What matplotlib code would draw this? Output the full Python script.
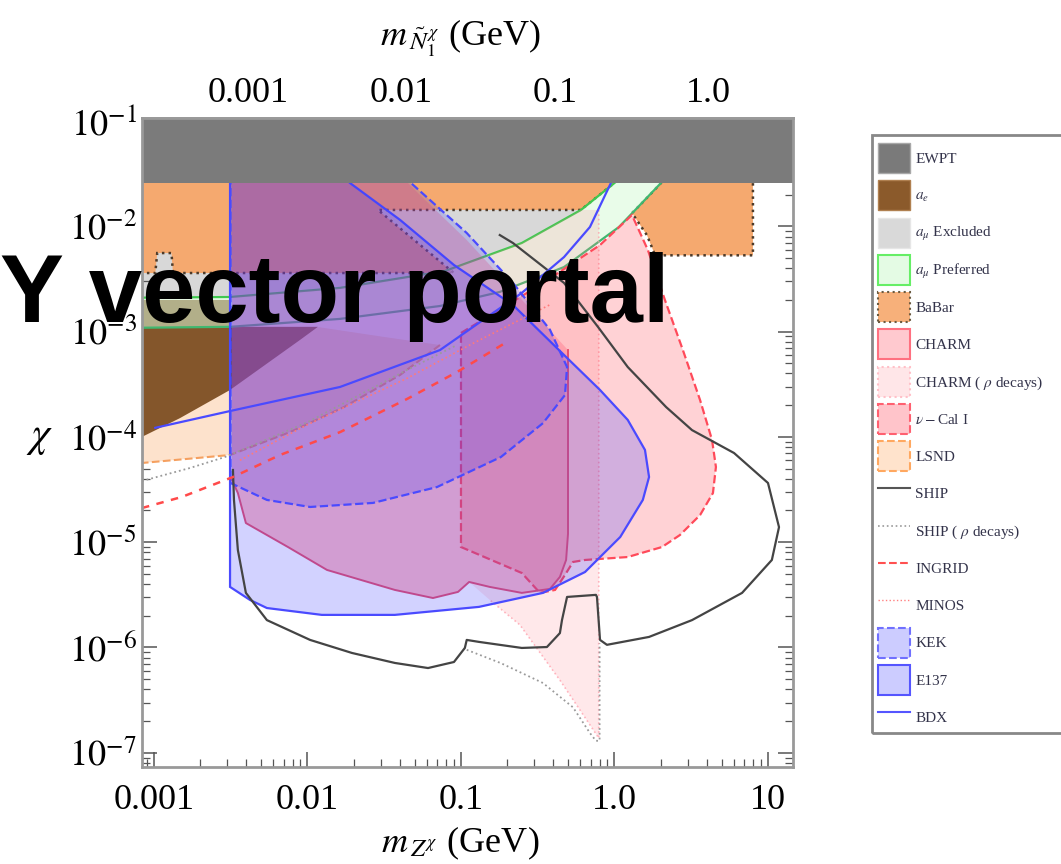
import matplotlib.pyplot as plt
from matplotlib.patches import Patch, Rectangle
from matplotlib.lines import Line2D
from matplotlib.ticker import LogLocator, NullFormatter

plt.rcParams['font.family'] = 'serif'
plt.rcParams['font.serif'] = ['Liberation Serif', 'DejaVu Serif']
plt.rcParams['mathtext.fontset'] = 'stix'

# m_Z' / m_N1 used for the upper axis
mass_ratio = 4.1

x_ticks = [0.001, 0.01, 0.1, 1.0, 10]
x_ticklabels = ['0.001', '0.01', '0.1', '1.0', '10']
top_ticks = [0.001, 0.01, 0.1, 1.0]
top_ticklabels = ['0.001', '0.01', '0.1', '1.0']
y_ticks = [1e-1, 1e-2, 1e-3, 1e-4, 1e-5, 1e-6, 1e-7]
y_ticklabels = [r'$10^{-1}$', r'$10^{-2}$', r'$10^{-3}$', r'$10^{-4}$',
                r'$10^{-5}$', r'$10^{-6}$', r'$10^{-7}$']

# --- excluded / sensitivity regions (mass in GeV, mixing chi) ---
ewpt_m = [1e-4, 1e2]
ewpt_chi = 2.6e-2

amu_excl_m = [5e-4, 1.6, 1.6, 1.0, 0.605, 0.249, 7.87e-2, 1.63e-2, 3.13e-3, 5e-4]
amu_excl_chi = [1.0, 1.0, 5e-2, 2.58e-2, 1.43e-2, 6.94e-3, 3.76e-3, 2.6e-3, 2.13e-3, 2.09e-3]

amu_pref_up_m = [5e-4, 3.13e-3, 1.63e-2, 7.87e-2, 0.249, 0.605, 1.0, 1.6]
amu_pref_up_chi = [2.09e-3, 2.13e-3, 2.6e-3, 3.76e-3, 6.94e-3, 1.43e-2, 2.58e-2, 5e-2]
amu_pref_lo_m = [5e-4, 3.13e-3, 1.63e-2, 7.3e-2, 0.179, 0.469, 1.07, 2.04, 3.6]
amu_pref_lo_chi = [1.08e-3, 1.11e-3, 1.32e-3, 1.75e-3, 2.38e-3, 4.1e-3, 9.85e-3, 2.64e-2, 5.3e-2]

# BaBar, low-mass part and high-mass lobe
babar_lo_m = [5e-4, 1.6, 1.6, 1.0, 0.605, 2.88e-2, 9.0e-2,
              1.33e-3, 1.30e-3, 1.05e-3, 1.02e-3, 5e-4]
babar_lo_chi = [1.0, 1.0, 5e-2, 2.58e-2, 1.43e-2, 1.43e-2, 3.6e-3,
                3.6e-3, 5.57e-3, 5.57e-3, 3.6e-3, 3.6e-3]
babar_hi_m = [2.04, 7.98, 7.98, 1.84, 1.63, 1.30, 1.47, 2.04]
babar_hi_chi = [1.0, 1.0, 5.3e-3, 5.3e-3, 8.2e-3, 1.34e-2, 1.6e-2, 2.64e-2]

ae_m = [5e-4, 3.13e-3, 3.13e-3, 1.17e-2, 8.93e-3, 3.13e-3, 1.48e-3, 8.35e-4, 5e-4]
ae_chi = [2.0e-3, 2.0e-3, 1.11e-3, 1.11e-3, 8.32e-4, 2.79e-4, 1.51e-4, 1.0e-4, 7e-5]

lsnd_m = [5e-4, 8.35e-4, 3.13e-3, 7.69e-3, 1.73e-2, 4.01e-2, 7.3e-2,
          3.0e-2, 1.2e-2, 3.13e-3, 5e-4]
lsnd_chi = [5.9e-5, 5.65e-5, 6.73e-5, 1.11e-4, 1.92e-4, 3.87e-4, 7.46e-4,
            9e-4, 1.1e-3, 1.1e-3, 1.1e-3]
lsnd_edge_n = 7   # points on the lower (visible) boundary

charm_m = [3.22e-3, 3.22e-3, 3.52e-3, 3.97e-3, 7.46e-3, 1.34e-2, 3.71e-2, 6.57e-2,
           9.56e-2, 0.113, 0.154, 0.249, 0.38, 0.441, 0.484, 0.498, 0.498,
           0.218, 0.109, 5.41e-2, 4.01e-2, 3.5e-2]
charm_chi = [5e-2, 3.9e-5, 2.93e-5, 1.52e-5, 9.0e-6, 5.45e-6, 3.52e-6, 2.95e-6,
             3.37e-6, 4.19e-6, 3.76e-6, 3.3e-6, 3.6e-6, 4.68e-6, 6.78e-6, 1.2e-5, 6.68e-4,
             2.48e-3, 7.41e-3, 1.98e-2, 3.07e-2, 5e-2]
charm_edge = slice(1, 17)

# CHARM (rho decays): the hidden part follows the CHARM edge and the a_mu band
charm_rho_m = [0.79, 0.79, 0.441, 0.242, 0.154, 0.113, 9.56e-2, 6.57e-2, 3.71e-2,
               1.34e-2, 7.46e-3, 3.97e-3, 3.52e-3, 3.22e-3, 3.22e-3, 1.63e-2,
               7.87e-2, 0.249, 0.605]
charm_rho_chi = [1.43e-2, 1.38e-7, 4.9e-7, 1.64e-6, 2.83e-6, 4.19e-6, 3.37e-6, 2.95e-6,
                 3.52e-6, 5.45e-6, 9.0e-6, 1.52e-5, 2.93e-5, 3.9e-5, 2.13e-3, 2.6e-3,
                 3.76e-3, 6.94e-3, 1.43e-2]
charm_rho_edge = slice(0, 5)

nucal_m = [0.1, 0.327, 0.805, 1.30, 1.65, 2.13, 2.79, 3.61, 4.32, 4.58, 4.38, 3.61,
           2.67, 2.04, 1.22, 0.643, 0.537, 0.476, 0.41, 0.327, 0.249, 0.1]
nucal_chi = [9.7e-4, 2.77e-3, 6.64e-3, 1.28e-2, 5.96e-3, 2.0e-3, 6.68e-4, 2.24e-4,
             9.36e-5, 5.18e-5, 2.93e-5, 1.81e-5, 1.17e-5, 9.0e-6, 7.23e-6, 6.78e-6,
             6.49e-6, 4.89e-6, 3.52e-6, 3.3e-6, 5.1e-6, 9.0e-6]

e137_m = [3.13e-3, 3.13e-3, 4.22e-3, 5.44e-3, 1.24e-2, 3.71e-2, 0.131, 0.342, 0.643,
          1.09, 1.53, 1.68, 1.58, 1.22, 0.805, 0.469, 0.218, 9.0e-2, 4.01e-2,
          1.89e-2, 1.2e-2]
e137_chi = [5e-2, 3.76e-6, 2.83e-6, 2.37e-6, 2.04e-6, 2.04e-6, 2.43e-6, 3.3e-6, 5.21e-6,
            1.12e-5, 2.52e-5, 4.16e-5, 7.52e-5, 1.45e-4, 2.79e-4, 6.0e-4, 1.79e-3,
            4.29e-3, 1.15e-2, 2.58e-2, 5e-2]

kek_m = [3.15e-3, 3.15e-3, 5.44e-3, 1.04e-2, 2.67e-2, 6.98e-2, 0.182, 0.342, 0.476,
         0.491, 0.38, 0.218, 0.109, 4.72e-2, 3.7e-2]
kek_chi = [5e-2, 3.65e-5, 2.52e-5, 2.16e-5, 2.36e-5, 3.34e-5, 6.44e-5, 1.35e-4, 2.5e-4,
           4.61e-4, 1.04e-3, 2.9e-3, 8.64e-3, 2.58e-2, 5e-2]

# --- sensitivity curves ---
ship_m = [0.179, 0.218, 0.469, 0.78, 1.22, 2.17, 3.20, 6.01, 10.0, 11.8, 10.6, 6.78,
          3.20, 1.68, 0.893, 0.805, 0.769, 0.757, 0.491, 0.455, 0.441, 0.363, 0.249,
          0.131, 0.109, 0.106, 0.09, 6.1e-2, 3.71e-2, 1.95e-2, 1.04e-2, 5.44e-3,
          3.97e-3, 3.52e-3, 3.32e-3, 3.27e-3]
ship_chi = [8.26e-3, 6.94e-3, 2.9e-3, 1.11e-3, 4.61e-4, 1.92e-4, 1.16e-4, 7.03e-5,
            3.65e-5, 1.39e-5, 6.78e-6, 3.3e-6, 1.82e-6, 1.26e-6, 1.06e-6, 1.18e-6,
            3.02e-6, 3.16e-6, 3.02e-6, 1.82e-6, 1.37e-6, 1.01e-6, 9.9e-7, 1.13e-6,
            1.18e-6, 9.9e-7, 7.28e-7, 6.38e-7, 7.13e-7, 8.87e-7, 1.18e-6, 1.82e-6,
            3.3e-6, 8.43e-6, 2.52e-5, 4.85e-5]

ship_rho_low_m = [8.35e-4, 1.72e-3, 2.9e-3, 9.93e-3, 4.45e-2, 9.42e-2]
ship_rho_low_chi = [3.81e-5, 5.07e-5, 6.44e-5, 1.37e-4, 4.32e-4, 7.46e-4]
ship_rho_m = [0.109, 0.182, 0.342, 0.537, 0.692, 0.757, 0.80, 0.80]
ship_rho_chi = [9.5e-7, 7.1e-7, 4.6e-7, 2.7e-7, 1.54e-7, 1.3e-7, 1.3e-7, 1.1e-6]

ingrid_m = [8.35e-4, 1.52e-3, 3.27e-3, 6.62e-3, 1.63e-2, 4.45e-2, 9.42e-2, 0.2]
ingrid_chi = [2.11e-5, 2.69e-5, 4.16e-5, 6.73e-5, 1.11e-4, 2.29e-4, 4.13e-4, 8.0e-4]

minos_m = [3.63e-3, 9.93e-3, 4.45e-2, 0.115, 0.38]
minos_chi = [6.0e-5, 1.3e-4, 3.6e-4, 7.5e-4, 1.8e-3]

bdx_m = [1.02e-3, 3.13e-3, 1.63e-2, 7.3e-2, 0.249, 0.469, 0.692, 0.948]
bdx_chi = [1.22e-4, 1.76e-4, 2.98e-4, 6.68e-4, 2.33e-3, 5.1e-3, 9.85e-3, 2.58e-2]

fig = plt.figure(figsize=(10.61, 8.64), dpi=100)
ax = fig.add_axes([142 / 1061, 1 - 767 / 864, 651 / 1061, 649 / 864])
ax.set_xscale('log')
ax.set_yscale('log')

babar_kw = dict(facecolor='#f5a96f', edgecolor='#4d3b2a', linestyle=':', lw=1.8, zorder=2)
ax.fill(amu_excl_m, amu_excl_chi, facecolor='#d8d8d8', edgecolor='none', zorder=1)
ax.fill(babar_lo_m, babar_lo_chi, **babar_kw)
ax.fill(babar_hi_m, babar_hi_chi, **babar_kw)

ax.fill(lsnd_m, lsnd_chi, facecolor='#fde2cc', edgecolor='none', zorder=3)
ax.plot(lsnd_m[:lsnd_edge_n], lsnd_chi[:lsnd_edge_n], color='#f5a060', lw=1.5,
        ls='--', zorder=3)
ax.fill(ae_m, ae_chi, facecolor='#84562b', edgecolor='none', zorder=4)
ax.fill(amu_pref_up_m + amu_pref_lo_m[::-1], amu_pref_up_chi + amu_pref_lo_chi[::-1],
        facecolor='#d8fad8', alpha=0.55, edgecolor='none', zorder=5)
ax.plot(amu_pref_up_m, amu_pref_up_chi, color='#40c850', lw=1.6, zorder=5)
ax.plot(amu_pref_lo_m, amu_pref_lo_chi, color='#40b870', lw=1.6, zorder=5)

ax.fill(charm_rho_m, charm_rho_chi, facecolor=(1, 0.55, 0.6, 0.2),
        edgecolor='none', zorder=6)
ax.plot(charm_rho_m[charm_rho_edge], charm_rho_chi[charm_rho_edge],
        color=(1, 0.6, 0.65, 0.7), ls=':', lw=1.2, zorder=6)
ax.fill(nucal_m, nucal_chi, facecolor=(1, 0.3, 0.35, 0.25),
        edgecolor='#ff4a5a', linestyle='--', lw=1.6, zorder=7)
ax.fill(charm_m, charm_chi, facecolor=(1, 0.3, 0.42, 0.28), edgecolor='none', zorder=8)
ax.plot(charm_m[charm_edge], charm_chi[charm_edge], color='#e8506e', lw=1.4, zorder=8)
ax.fill(e137_m, e137_chi, facecolor=(0.2, 0.2, 1, 0.22),
        edgecolor='#4a4aff', lw=1.6, zorder=9)
ax.fill(kek_m, kek_chi, facecolor=(0.2, 0.2, 1, 0.2),
        edgecolor='#4a4aff', linestyle='--', lw=1.6, zorder=10)

ax.plot(ship_m, ship_chi, color='#444444', lw=1.6, zorder=11)
ax.plot(ship_rho_low_m, ship_rho_low_chi, color='#9a9a9a', lw=1.3, ls=':', zorder=11)
ax.plot(ship_rho_m, ship_rho_chi, color='#9a9a9a', lw=1.3, ls=':', zorder=11)
ax.plot(ingrid_m, ingrid_chi, color='#ff4a4a', lw=1.8, ls=(0, (3, 3)), zorder=11)
ax.plot(minos_m, minos_chi, color='#ff7a7a', lw=1.2, ls=':', zorder=11)
ax.plot(bdx_m, bdx_chi, color='#4a4aff', lw=1.6, zorder=12)

ax.fill_between(ewpt_m, ewpt_chi, 1.0, facecolor='#7b7b7b', edgecolor='none', zorder=20)

ax.set_xlim(10 ** -3.078, 10 ** 1.163)
ax.set_ylim(10 ** -7.135, 10 ** -0.9715)

ax.set_xticks(x_ticks, labels=x_ticklabels)
ax.set_yticks(y_ticks, labels=y_ticklabels)
ax.xaxis.set_minor_locator(LogLocator(base=10, subs=range(2, 10), numticks=20))
ax.yaxis.set_minor_locator(LogLocator(base=10, subs=range(2, 10), numticks=20))
ax.xaxis.set_minor_formatter(NullFormatter())
ax.yaxis.set_minor_formatter(NullFormatter())
ax.tick_params(which='both', direction='in', color='#555555', labelsize=26)
ax.tick_params(axis='x', which='both', top=False, pad=12)
ax.tick_params(axis='y', which='both', right=True, pad=4)
ax.tick_params(which='major', length=11, width=1.1)
ax.tick_params(which='minor', length=6, width=0.9)
for sp in ax.spines.values():
    sp.set_color('#999999')
    sp.set_linewidth(2)
    sp.set_zorder(30)

top = ax.secondary_xaxis('top', functions=(lambda m: m / mass_ratio,
                                           lambda m: m * mass_ratio))
top.set_xticks(top_ticks, labels=top_ticklabels)
top.xaxis.set_minor_locator(LogLocator(base=10, subs=range(2, 10), numticks=20))
top.xaxis.set_minor_formatter(NullFormatter())
top.tick_params(which='both', direction='in', color='#555555', labelsize=26, pad=6)
top.tick_params(which='major', length=11, width=1.1)
top.tick_params(which='minor', length=6, width=0.9)
top.spines['top'].set_color('#999999')
top.spines['top'].set_linewidth(2)

fig.text(460 / 1061, 1 - 843 / 864, r'$m_{\,Z^{\chi}}$ (GeV)', fontsize=26,
         ha='center', va='center')
fig.text(460 / 1061, 1 - 38 / 864, r'$m_{\,\tilde{N}_1^{\,\chi}}$ (GeV)', fontsize=26,
         ha='center', va='center')
fig.text(40 / 1061, 1 - 438 / 864, r'$\chi$', fontsize=30, ha='center', va='center')

legend_handles = [
    Patch(facecolor='#7a7a7a', edgecolor='#a8a8a8', label='EWPT'),
    Patch(facecolor='#8b5a2b', edgecolor='#b08050', label=r'$a_e$'),
    Patch(facecolor='#d9d9d9', edgecolor='#e6e6e6', label=r'$a_\mu$ Excluded'),
    Patch(facecolor='#e4fbe4', edgecolor='#66ee66', lw=1.5, label=r'$a_\mu$ Preferred'),
    Patch(facecolor='#f7b07a', edgecolor='#6b5a40', ls=':', lw=1.5, label='BaBar'),
    Patch(facecolor='#ffc9cf', edgecolor='#ff7080', lw=1.5, label='CHARM'),
    Patch(facecolor='#ffe6e8', edgecolor='#ffc0c8', ls=':', lw=1.5,
          label=r'CHARM ( $\rho$ decays)'),
    Patch(facecolor='#ffc4ca', edgecolor='#ff6070', ls='--', lw=1.5, label=r'$\nu-$Cal I'),
    Patch(facecolor='#ffe3cc', edgecolor='#ffa860', ls='--', lw=1.5, label='LSND'),
    Line2D([], [], color='#555555', lw=1.5, label='SHIP'),
    Line2D([], [], color='#999999', lw=1.2, ls=':', label=r'SHIP ( $\rho$ decays)'),
    Line2D([], [], color='#ff5050', lw=1.5, ls='--', label='INGRID'),
    Line2D([], [], color='#ff8080', lw=1.0, ls=':', label='MINOS'),
    Patch(facecolor='#ccccff', edgecolor='#7070ff', ls='--', lw=1.5, label='KEK'),
    Patch(facecolor='#ccccff', edgecolor='#5555ff', lw=1.5, label='E137'),
    Line2D([], [], color='#5555ff', lw=1.5, label='BDX'),
]
leg = fig.legend(handles=legend_handles, loc='upper left',
                 bbox_to_anchor=(878 / 1061, 1 - 143 / 864), frameon=False,
                 fontsize=11, handlelength=2.1, handleheight=2.64,
                 labelspacing=0.48, handletextpad=0.33, borderpad=0, borderaxespad=0)
for t in leg.get_texts():
    t.set_color('#33334a')
fig.patches.append(Rectangle((872 / 1061, 1 - 733 / 864), 200 / 1061, 598 / 864,
                             transform=fig.transFigure, facecolor='none',
                             edgecolor='#888888', lw=2))

fig.text(0.0, 1 - 322 / 864, 'Y vector portal', fontfamily='Liberation Sans',
         fontweight='bold', fontsize=69, ha='left', va='baseline', color='black',
         zorder=100)

fig.savefig('out.png', dpi=100)
